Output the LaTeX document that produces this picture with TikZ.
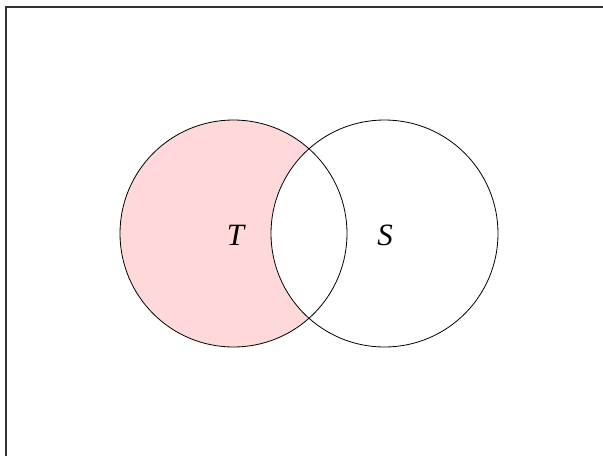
\documentclass[tikz,border=0pt]{standalone}
\usepackage{fontspec}
\setmainfont{Liberation Serif}

\tikzset{
  setcircle/.style={circle, draw=black, line width=0.8pt, inner sep=0pt,
    minimum size=227pt},
  setname/.style={font=\fontsize{31}{35}\selectfont\itshape},
  frameline/.style={draw=black!80, line width=1.3pt}
}

\begin{document}
\begin{tikzpicture}[x=1pt,y=-1pt]

\useasboundingbox (0,0) rectangle (603,456);

% shaded part: T without S
\fill[red!15] (233.5,233.5) circle [radius=113.5pt];
\fill[white] (384.5,233.5) circle [radius=113.5pt];

% the two sets
\node[setcircle] (T) at (233.5,233.5) {};
\node[setcircle] (S) at (384.5,233.5) {};
\node[setname] (Tname) at (235.5,235) {T};
\node[setname] (Sname) at (385,235) {S};

% frame
\coordinate (corner) at (6,7);
\coordinate (topend) at (603,7);
\coordinate (leftend) at (6,456);
\draw[frameline] (topend) -- (corner) -- (leftend);

\end{tikzpicture}
\end{document}
